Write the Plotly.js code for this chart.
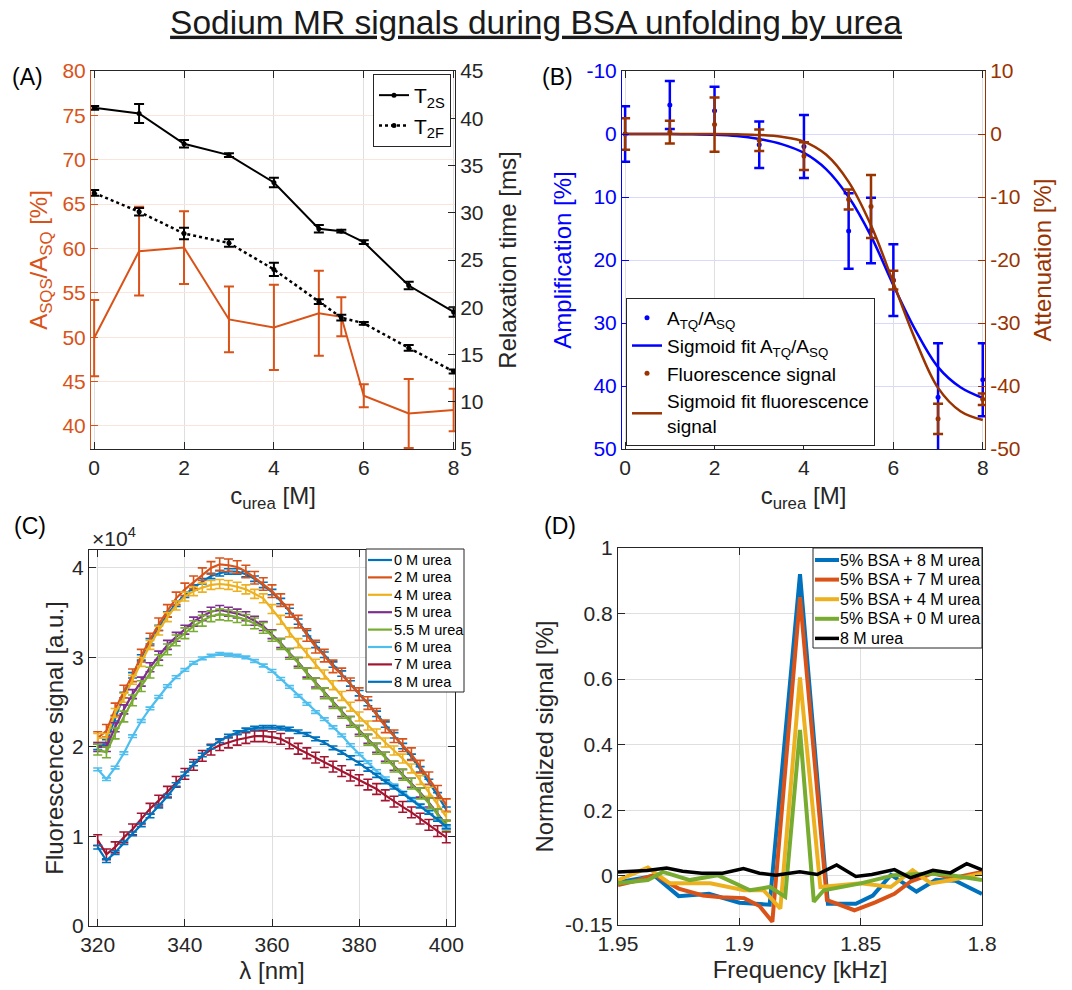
<!DOCTYPE html>
<html><head><meta charset="utf-8">
<script src="https://cdn.plot.ly/plotly-3.0.1.min.js"></script>
<style>html,body{margin:0;padding:0;background:#fff;} #chart{width:1072px;height:990px;}</style>
</head><body><div id="chart"></div>
<script>
// ---------- Panel A data ----------
const cUrea = [0, 1, 2, 3, 4, 5, 5.5, 6, 7, 8];
const asqsRatio = [49.9, 59.7, 60.1, 52.0, 51.1, 52.7, 52.3, 43.4, 41.4, 41.8];
const asqsErr   = [4.3, 5.0, 4.1, 3.7, 4.8, 4.8, 2.2, 1.3, 3.9, 2.4];
const t2s    = [41.1, 40.5, 37.3, 36.1, 33.2, 28.3, 28.05, 26.9, 22.3, 19.5];
const t2sErr = [0.2, 1.0, 0.4, 0.2, 0.5, 0.4, 0.15, 0.2, 0.4, 0.5];
const t2f    = [32.1, 30.1, 27.8, 26.8, 24.0, 20.6, 18.9, 18.3, 15.7, 13.2];
const t2fErr = [0.3, 0.4, 0.6, 0.4, 0.7, 0.25, 0.3, 0.15, 0.3, 0.2];

// ---------- Panel B data ----------
const amplification = [0, -4.6, -3.7, 1.7, 2.0, 15.4, 15.3, 23.2, 41.8, 39.0];
const amplErr       = [4.4, 3.8, 3.8, 3.7, 5.0, 6.0, 5.2, 5.7, 8.6, 5.8];
const attenuation   = [0, 0.3, 1.5, -1.0, -3.5, -10.4, -11.5, -23.2, -45.2, -42.1];
const attenErr      = [2.5, 1.8, 4.3, 1.7, 2.2, 1.6, 5.0, 1.5, 2.4, 0.9];
const fitX     = [0, 0.5, 1, 1.5, 2, 2.5, 3, 3.5, 4, 4.5, 5, 5.5, 6, 6.5, 7, 7.5, 8];
const amplFit  = [0, 0, 0, 0.05, 0.1, 0.3, 0.8, 1.6, 3.0, 5.6, 10.0, 16.2, 24.0, 31.2, 37.0, 40.2, 41.9];
const attenFit = [0, 0, 0, 0, 0, -0.05, -0.15, -0.45, -1.2, -3.3, -7.6, -14.5, -23.6, -32.8, -40.3, -44.0, -45.4];

// ---------- Panel C data (x 10^4 a.u.) ----------
const wavelength = [320,322,324,326,328,330,332,334,336,338,340,342,344,346,348,350,352,354,356,358,360,
                    362,364,366,368,370,372,374,376,378,380,382,384,386,388,390,392,394,396,398,400];
const fl0M  = [2.00,2.05,2.32,2.58,2.80,3.00,3.18,3.33,3.48,3.60,3.70,3.78,3.85,3.91,3.94,3.96,3.96,3.93,3.88,3.81,3.73,
               3.63,3.52,3.40,3.27,3.14,3.03,2.92,2.82,2.71,2.60,2.49,2.37,2.25,2.13,2.01,1.89,1.75,1.61,1.46,1.30];
const fl2M  = [2.10,2.18,2.42,2.62,2.80,3.02,3.20,3.37,3.52,3.66,3.76,3.84,3.93,4.00,4.04,4.03,4.01,3.96,3.89,3.82,3.74,
               3.64,3.52,3.40,3.25,3.12,3.02,2.90,2.81,2.70,2.59,2.49,2.36,2.23,2.12,2.02,1.92,1.78,1.65,1.50,1.35];
const fl4M  = [2.10,2.10,2.38,2.55,2.75,2.95,3.14,3.30,3.45,3.58,3.68,3.74,3.78,3.81,3.82,3.81,3.79,3.76,3.71,3.66,3.54,
               3.42,3.28,3.16,3.05,2.93,2.81,2.69,2.57,2.45,2.34,2.24,2.15,2.05,1.96,1.87,1.76,1.63,1.50,1.36,1.22];
const fl5M  = [2.00,2.00,2.22,2.42,2.59,2.73,2.89,3.02,3.14,3.23,3.31,3.40,3.46,3.51,3.53,3.51,3.49,3.46,3.41,3.35,3.26,
               3.16,3.05,2.95,2.83,2.72,2.61,2.50,2.39,2.29,2.19,2.09,1.99,1.89,1.79,1.70,1.60,1.49,1.38,1.26,1.13];
const fl55M = [1.97,1.94,2.15,2.34,2.52,2.68,2.83,2.97,3.09,3.19,3.27,3.35,3.41,3.46,3.48,3.47,3.45,3.42,3.38,3.33,3.24,
               3.15,3.04,2.94,2.82,2.71,2.60,2.49,2.38,2.28,2.18,2.08,1.98,1.88,1.78,1.69,1.59,1.48,1.37,1.25,1.12];
const fl6M  = [1.75,1.64,1.77,1.93,2.12,2.29,2.43,2.56,2.68,2.78,2.86,2.94,2.99,3.02,3.04,3.03,3.02,3.00,2.96,2.91,2.85,
               2.76,2.67,2.57,2.48,2.39,2.31,2.22,2.13,2.02,1.92,1.83,1.73,1.65,1.57,1.49,1.42,1.35,1.27,1.19,1.10];
const fl7M  = [0.96,0.80,0.88,0.99,1.08,1.20,1.31,1.40,1.50,1.61,1.70,1.80,1.90,1.97,2.02,2.05,2.08,2.10,2.12,2.12,2.11,
               2.09,2.04,1.98,1.93,1.88,1.83,1.78,1.73,1.68,1.63,1.58,1.53,1.46,1.39,1.33,1.27,1.20,1.13,1.06,0.99];
const fl8M  = [0.88,0.73,0.82,0.93,1.03,1.13,1.23,1.34,1.45,1.58,1.70,1.81,1.91,2.00,2.07,2.12,2.16,2.19,2.21,2.22,2.22,
               2.21,2.20,2.17,2.14,2.09,2.05,1.99,1.94,1.88,1.82,1.75,1.68,1.61,1.55,1.48,1.41,1.34,1.27,1.19,1.11];
const flSeries = [fl0M, fl2M, fl4M, fl5M, fl55M, fl6M, fl7M, fl8M];
const flNames  = ['0 M urea','2 M urea','4 M urea','5 M urea','5.5 M urea','6 M urea','7 M urea','8 M urea'];
const flErr    = [0.03, 0.07, 0.05, 0.05, 0.06, 0.015, 0.06, 0.02];

// ---------- Panel D data ----------
const fB8  = [1.95,1.9425,1.935,1.925,1.9125,1.90,1.8875,1.875,1.8635,1.852,1.845,1.8375,1.827,1.819,1.811,1.80];
const vB8  = [-0.02,-0.01,0.0,-0.062,-0.055,-0.082,-0.088,0.92,-0.085,-0.085,-0.06,0.003,-0.048,-0.012,-0.015,-0.055];
const fB7  = [1.95,1.943,1.935,1.925,1.915,1.9075,1.898,1.8917,1.8864,1.875,1.8639,1.8526,1.844,1.8361,1.8295,1.8202,1.8123,1.80];
const vB7  = [-0.028,-0.016,0.003,-0.039,-0.06,-0.065,-0.068,-0.092,-0.14,0.85,-0.074,-0.105,-0.081,-0.055,-0.018,0.008,-0.007,0.012];
const fB4  = [1.95,1.9377,1.9287,1.912,1.898,1.89,1.8831,1.875,1.8666,1.85,1.8376,1.8286,1.821,1.8127,1.80];
const vB4  = [-0.013,0.025,-0.023,-0.023,-0.044,-0.044,-0.1,0.605,-0.034,-0.023,-0.034,0.017,-0.023,-0.013,0.007];
const fB0  = [1.95,1.9377,1.9315,1.9204,1.909,1.8956,1.8873,1.8811,1.875,1.8693,1.8652,1.85,1.8362,1.821,1.8127,1.80];
const vB0  = [-0.023,-0.013,0.012,-0.013,0.002,-0.044,-0.034,-0.064,0.445,-0.079,-0.044,-0.023,0.002,0.007,0.002,-0.013];
const fU8  = [1.95,1.938,1.930,1.9234,1.9155,1.9069,1.8983,1.8917,1.885,1.8751,1.8679,1.8599,1.852,1.8454,1.8361,1.8295,1.8202,1.813,1.8063,1.80];
const vU8  = [0.012,0.016,0.024,0.014,0.008,0.008,0.022,0.008,0.002,0.012,0.004,0.033,-0.002,0.004,0.019,-0.006,0.017,0.009,0.037,0.018];
const dNames = ['5% BSA + 8 M urea','5% BSA + 7 M urea','5% BSA + 4 M urea','5% BSA + 0 M urea','8 M urea'];

// ---------- styling ----------
const ORANGE = '#D95319', BLUE = '#0000FF', BROWN = '#993300', INK = '#262626';
const mcol = ['#0072BD','#D95319','#EDB120','#7E2F8E','#77AC30','#4DBEEE','#A2142F','#0072BD'];
const dcol = ['#0072BD','#D95319','#EDB120','#77AC30','#000000'];
const dwid = [4, 4, 4, 4, 3.5];
const FONT = 'Liberation Sans, Arial, Helvetica, sans-serif';
const W = 1072, H = 990;
const px = v => v / W, py = v => 1 - v / H;

const traces = [];
// A
traces.push({x: cUrea, y: asqsRatio, xaxis: 'x', yaxis: 'y', mode: 'lines', showlegend: false,
  line: {color: ORANGE, width: 2},
  error_y: {type: 'data', array: asqsErr, color: ORANGE, thickness: 2, width: 5}});
traces.push({x: cUrea, y: t2s, xaxis: 'x', yaxis: 'y2', mode: 'lines+markers', name: 'T<sub>2S</sub>', legend: 'legend',
  line: {color: '#000', width: 2}, marker: {color: '#000', size: 5},
  error_y: {type: 'data', array: t2sErr, color: '#000', thickness: 2, width: 5}});
traces.push({x: cUrea, y: t2f, xaxis: 'x', yaxis: 'y2', mode: 'lines+markers', name: 'T<sub>2F</sub>', legend: 'legend',
  line: {color: '#000', width: 2.5, dash: 'dot'}, marker: {color: '#000', size: 5},
  error_y: {type: 'data', array: t2fErr, color: '#000', thickness: 2, width: 5}});
// B
traces.push({x: cUrea, y: amplification, xaxis: 'x2', yaxis: 'y3', mode: 'markers', name: 'A<sub>TQ</sub>/A<sub>SQ</sub>', legend: 'legend2',
  marker: {color: BLUE, size: 5}, error_y: {type: 'data', array: amplErr, color: BLUE, thickness: 2.5, width: 5}});
traces.push({x: fitX, y: amplFit, xaxis: 'x2', yaxis: 'y3', mode: 'lines', line: {color: BLUE, width: 2.5, shape: 'spline'},
  name: 'Sigmoid fit A<sub>TQ</sub>/A<sub>SQ</sub>', legend: 'legend2'});
traces.push({x: cUrea, y: attenuation, xaxis: 'x2', yaxis: 'y4', mode: 'markers', name: 'Fluorescence signal', legend: 'legend2',
  marker: {color: BROWN, size: 5}, error_y: {type: 'data', array: attenErr, color: BROWN, thickness: 2.5, width: 5}});
traces.push({x: fitX, y: attenFit, xaxis: 'x2', yaxis: 'y4', mode: 'lines', line: {color: BROWN, width: 2.5, shape: 'spline'},
  name: 'Sigmoid fit fluorescence<br>signal', legend: 'legend2'});
// C
flSeries.forEach((s, i) => {
  traces.push({x: wavelength, y: s, xaxis: 'x3', yaxis: 'y5', mode: 'lines', name: flNames[i], showlegend: false,
    line: {color: mcol[i], width: 2.2},
    error_y: {type: 'constant', value: flErr[i], color: mcol[i], thickness: 1.6, width: 4.5}});
});
// D
[[fB8, vB8], [fB7, vB7], [fB4, vB4], [fB0, vB0], [fU8, vU8]].forEach((d, i) => {
  traces.push({x: d[0], y: d[1], xaxis: 'x4', yaxis: 'y6', mode: 'lines', name: dNames[i], showlegend: false,
    line: {color: dcol[i], width: dwid[i]}});
});

const base = {
  showline: true, linecolor: INK, linewidth: 1, ticks: 'inside', ticklen: 7, tickcolor: INK, tickwidth: 1,
  showgrid: true, gridcolor: '#dfdfdf', gridwidth: 1, zeroline: false, automargin: false,
  tickfont: {family: FONT, size: 21, color: INK}
};
const ttl = (t, c, s) => ({text: t, font: {family: FONT, size: 24, color: c || INK}, standoff: s});

const domA = [px(91), px(455)], domB = [px(622), px(985)], domC = [px(89), px(455)], domD = [px(618), px(982)];
const rowTop = [py(449), py(71)], rowBot = [py(926), py(550)];

const layout = {
  width: W, height: H, margin: {l: 0, r: 0, t: 0, b: 0},
  paper_bgcolor: '#fff', plot_bgcolor: '#fff',
  font: {family: FONT, size: 20, color: INK},
  title: {text: '<u>Sodium MR signals during BSA unfolding by urea</u>', x: 0.5, xanchor: 'center',
          y: py(22), yanchor: 'middle', yref: 'container', font: {family: FONT, size: 33.5, color: '#1a1a1a'}},
  // A
  xaxis: Object.assign({}, base, {domain: domA, anchor: 'y', range: [-0.07, 8.03], tickvals: [0,2,4,6,8], mirror: 'ticks',
    title: ttl('c<sub>urea</sub> [M]', INK, 8)}),
  yaxis: Object.assign({}, base, {domain: rowTop, anchor: 'x', range: [37.4, 80], tickvals: [40,45,50,55,60,65,70,75,80],
    linecolor: ORANGE, tickcolor: ORANGE, gridcolor: '#f9e5dc', tickfont: {family: FONT, size: 21, color: ORANGE},
    title: ttl('A<sub>SQS</sub>/A<sub>SQ</sub> [%]', ORANGE, 8)}),
  yaxis2: Object.assign({}, base, {overlaying: 'y', side: 'right', anchor: 'x', range: [5, 45], tickvals: [5,10,15,20,25,30,35,40,45],
    showgrid: false, title: ttl('Relaxation time [ms]', INK, 16)}),
  // B
  xaxis2: Object.assign({}, base, {domain: domB, anchor: 'y3', range: [-0.07, 8.05], tickvals: [0,2,4,6,8], mirror: 'ticks',
    title: ttl('c<sub>urea</sub> [M]', INK, 8)}),
  yaxis3: Object.assign({}, base, {domain: rowTop, anchor: 'x2', range: [50, -10], tickvals: [-10,0,10,20,30,40,50],
    ticktext: ['-10','0','10','20','30','40','50'], linecolor: BLUE, tickcolor: BLUE, gridcolor: '#d9d9ff',
    tickfont: {family: FONT, size: 21, color: BLUE}, title: ttl('Amplification [%]', BLUE, 8)}),
  yaxis4: Object.assign({}, base, {overlaying: 'y3', side: 'right', anchor: 'x2', range: [-50, 10], tickvals: [-50,-40,-30,-20,-10,0,10],
    ticktext: ['-50','-40','-30','-20','-10','0','10'], showgrid: false, linecolor: BROWN, tickcolor: BROWN,
    tickfont: {family: FONT, size: 21, color: BROWN}, title: ttl('Attenuation [%]', BROWN, 14)}),
  // C
  xaxis3: Object.assign({}, base, {domain: domC, anchor: 'y5', range: [318, 402], tickvals: [320,340,360,380,400], mirror: 'ticks',
    title: ttl('λ [nm]', INK, 6)}),
  yaxis5: Object.assign({}, base, {domain: rowBot, anchor: 'x3', range: [0, 4.2], tickvals: [0,1,2,3,4], mirror: 'ticks',
    title: ttl('Fluorescence signal [a.u.]', INK, 1)}),
  // D
  xaxis4: Object.assign({}, base, {domain: domD, anchor: 'y6', range: [1.95, 1.8], tickvals: [1.95,1.9,1.85,1.8],
    ticktext: ['1.95','1.9','1.85','1.8'], mirror: 'ticks', title: ttl('Frequency [kHz]', INK, 6)}),
  yaxis6: Object.assign({}, base, {domain: [py(925), py(548)], anchor: 'x4', range: [-0.15, 1],
    tickvals: [-0.15,0,0.2,0.4,0.6,0.8,1], ticktext: ['-0.15','0','0.2','0.4','0.6','0.8','1'], mirror: 'ticks',
    title: ttl('Normalized signal [%]', INK, 4)}),
  legend: {x: px(451), xanchor: 'right', y: py(74), yanchor: 'top', bgcolor: '#fff', bordercolor: INK, borderwidth: 1,
    font: {family: FONT, size: 21, color: '#000'}, tracegroupgap: 0},
  legend2: {x: px(626), xanchor: 'left', y: py(446), yanchor: 'bottom', bgcolor: '#fff', bordercolor: INK, borderwidth: 1,
    font: {family: FONT, size: 19, color: '#000'}, tracegroupgap: 0},
  shapes: [],
  annotations: [
    {text: '(A)', x: px(10), y: py(77), xref: 'paper', yref: 'paper', xanchor: 'left', yanchor: 'middle', showarrow: false, font: {family: FONT, size: 23, color: '#000'}},
    {text: '(B)', x: px(540), y: py(77), xref: 'paper', yref: 'paper', xanchor: 'left', yanchor: 'middle', showarrow: false, font: {family: FONT, size: 23, color: '#000'}},
    {text: '(C)', x: px(12), y: py(526), xref: 'paper', yref: 'paper', xanchor: 'left', yanchor: 'middle', showarrow: false, font: {family: FONT, size: 23, color: '#000'}},
    {text: '(D)', x: px(542), y: py(526), xref: 'paper', yref: 'paper', xanchor: 'left', yanchor: 'middle', showarrow: false, font: {family: FONT, size: 23, color: '#000'}},
    {text: '×10<sup>4</sup>', x: px(90), y: py(537), xref: 'paper', yref: 'paper', xanchor: 'left', yanchor: 'middle', showarrow: false, font: {family: FONT, size: 21, color: INK}}
  ]
};

// compact legend for panel C
layout.shapes.push({type: 'rect', xref: 'paper', yref: 'paper', x0: px(366), x1: px(464), y0: py(692), y1: py(549),
  fillcolor: '#fff', line: {color: INK, width: 1}, layer: 'above'});
flNames.forEach((n, i) => {
  const yy = 560 + i * 17.4;
  layout.shapes.push({type: 'line', xref: 'paper', yref: 'paper', x0: px(368), x1: px(392), y0: py(yy), y1: py(yy),
    line: {color: mcol[i], width: 2.2}, layer: 'above'});
  layout.annotations.push({text: n, x: px(392), y: py(yy), xref: 'paper', yref: 'paper', xanchor: 'left', yanchor: 'middle',
    showarrow: false, font: {family: FONT, size: 14.5, color: '#000'}});
});
// compact legend for panel D
layout.shapes.push({type: 'rect', xref: 'paper', yref: 'paper', x0: px(813), x1: px(982), y0: py(648), y1: py(548),
  fillcolor: '#fff', line: {color: INK, width: 1}, layer: 'above'});
dNames.forEach((n, i) => {
  const yy = 560 + i * 19.6;
  layout.shapes.push({type: 'line', xref: 'paper', yref: 'paper', x0: px(815), x1: px(839), y0: py(yy), y1: py(yy),
    line: {color: dcol[i], width: dwid[i]}, layer: 'above'});
  layout.annotations.push({text: n, x: px(838), y: py(yy), xref: 'paper', yref: 'paper', xanchor: 'left', yanchor: 'middle',
    showarrow: false, font: {family: FONT, size: 16, color: '#000'}});
});

Plotly.newPlot('chart', traces, layout, {displayModeBar: false, staticPlot: true});
</script></body></html>
